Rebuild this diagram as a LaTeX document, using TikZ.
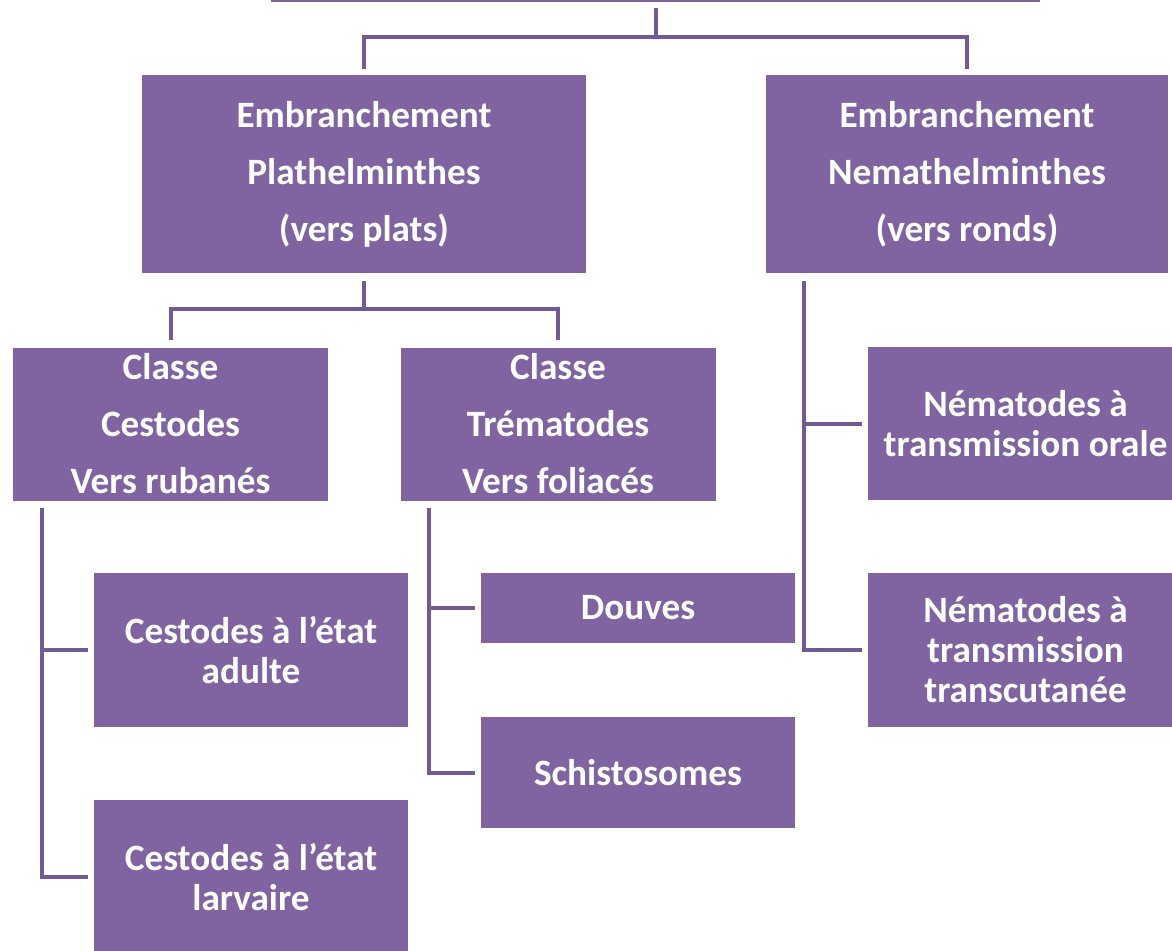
\documentclass[tikz,border=0pt]{standalone}
\usepackage{fontspec}
\setmainfont{Carlito}
\usepackage{xcolor}
\usepackage{tikz}
\usetikzlibrary{calc}
\definecolor{purple}{HTML}{8064A2}
\definecolor{deeppurple}{HTML}{735A93}
\tikzset{
  box/.style={
    fill=purple, text=white, inner sep=0pt, align=center,
    font=\fontsize{18.6}{28.5}\selectfont\bfseries
  },
  phylum/.style={box, minimum height=99pt},
  classe/.style={box, minimum width=157.5pt, minimum height=76.5pt},
  taxon/.style={box, minimum width=157pt, font=\fontsize{18.6}{20}\selectfont\bfseries},
  link/.style={draw=deeppurple, line width=2pt},
  branch/.style={link, shorten >=3pt}
}

\begin{document}
\begin{tikzpicture}[x=0.5pt, y=-0.5pt]
  \useasboundingbox (0,0) rectangle (1172,950);
  \clip (0,0) rectangle (1172,950);

  \node[box, minimum width=384.5pt, minimum height=40pt, anchor=south] (root) at (655.5,2) {};

  \node[phylum, minimum width=222pt] (plat) at (364,174) {Embranchement\\Plathelminthes\\(vers plats)};
  \node[phylum, minimum width=201pt] (nemat) at (967,174) {Embranchement\\Nemathelminthes\\(vers ronds)};

  \node[classe] (cest) at (170.5,424) {Classe\\Cestodes\\Vers rubanés};
  \node[classe] (trem) at (558,424) {Classe\\Trématodes\\Vers foliacés};

  \node[taxon, minimum height=77pt] (adulte) at (251,650) {Cestodes à l’état\\adulte};
  \node[taxon, minimum height=77pt] (larve) at (251,877) {Cestodes à l’état\\larvaire};
  \node[taxon, minimum height=35pt] (douves) at (638,608) {Douves};
  \node[taxon, minimum height=55.5pt] (schisto) at (638,772.5) {Schistosomes};
  \node[taxon, minimum width=157.5pt, minimum height=76.5pt] (orale) at (1025.5,423.5) {Nématodes à\\transmission orale};
  \node[taxon, minimum width=157.5pt, minimum height=77pt] (transcut) at (1025.5,650) {Nématodes à\\transmission\\transcutanée};

  \draw[link] ([yshift=-3pt]root.south) -- ++(0,29) -| ([yshift=3pt]plat.north);
  \draw[link] ([yshift=-3pt]root.south) -- ++(0,29) -| ([yshift=3pt]nemat.north);

  \draw[link] ([yshift=-4pt]plat.south) -- ++(0,28) -| ([yshift=3.5pt]cest.north);
  \draw[link] ([yshift=-4pt]plat.south) -- ++(0,28) -| ([yshift=3.5pt]trem.north);

  \draw[branch] ([xshift=14.5pt,yshift=-3.5pt]cest.south west) |- (adulte.west);
  \draw[branch] ([xshift=14.5pt,yshift=-3.5pt]cest.south west) |- (larve.west);

  \draw[branch] ([xshift=14.5pt,yshift=-3.5pt]trem.south west) |- (douves.west);
  \draw[branch] ([xshift=14.5pt,yshift=-3.5pt]trem.south west) |- (schisto.west);

  \draw[branch] ([xshift=19pt,yshift=-4pt]nemat.south west) |- (orale.west);
  \draw[branch] ([xshift=19pt,yshift=-4pt]nemat.south west) |- (transcut.west);
\end{tikzpicture}
\end{document}
